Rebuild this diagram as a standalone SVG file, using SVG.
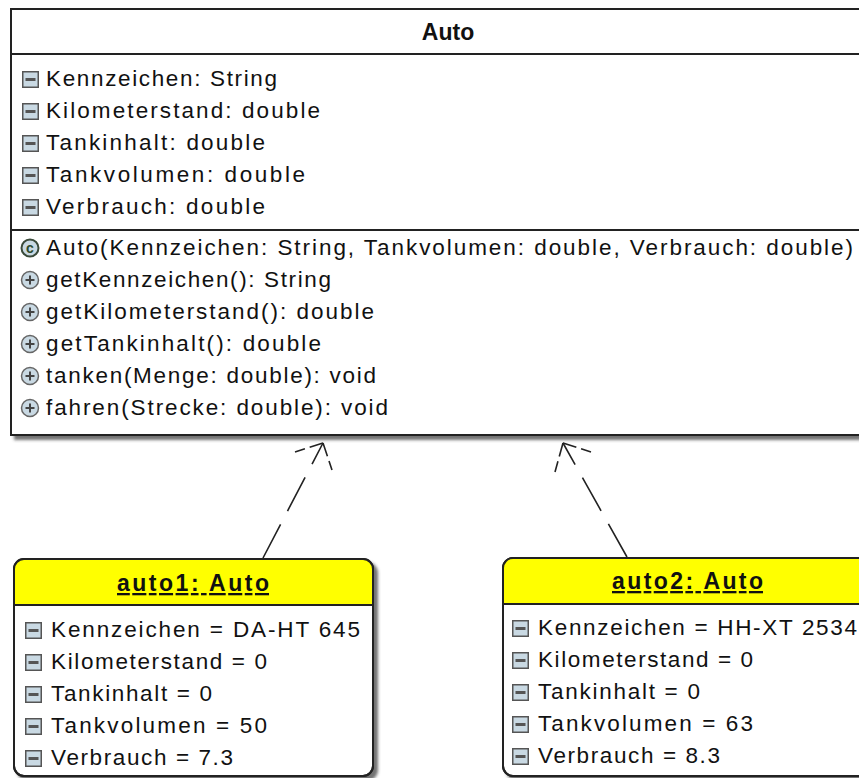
<svg xmlns="http://www.w3.org/2000/svg" width="859" height="778" viewBox="0 0 859 778">
<style>
.box{fill:#fff;stroke:#222;stroke-width:2}
.sep{stroke:#222;stroke-width:2}
.t{font-family:"Liberation Sans",Arial,sans-serif;font-size:22.5px;fill:#111}
.b{font-family:"Liberation Sans",Arial,sans-serif;font-size:23px;font-weight:bold;fill:#111}
.u{text-decoration:underline}
.ai{fill:#c9d9e3;stroke:#555;stroke-width:1.5}
.bar{fill:#555}
.mi{fill:#c9d9e3;stroke:#666;stroke-width:1.5}
.plus{stroke:#444;stroke-width:2}
.dash{fill:none;stroke:#222;stroke-width:1.6;stroke-dasharray:38 15}
.head{fill:none;stroke:#222;stroke-width:1.6;stroke-dasharray:14 5}
</style>
<defs>
<filter id="sh" x="-5%" y="-5%" width="115%" height="115%">
<feDropShadow dx="4" dy="4" stdDeviation="1.5" flood-color="#444" flood-opacity="0.75"/>
</filter>
<symbol id="attr" viewBox="0 0 17 17" width="17" height="17">
<rect x="0.75" y="0.75" width="15.5" height="15.5" class="ai"/>
<rect x="3.5" y="7" width="10" height="3" class="bar"/>
</symbol>
<symbol id="meth" viewBox="0 0 20 20" width="20" height="20">
<circle cx="10" cy="10" r="8.5" class="mi"/>
<line x1="5.5" y1="10" x2="14.5" y2="10" class="plus"/>
<line x1="10" y1="5.5" x2="10" y2="14.5" class="plus"/>
</symbol>
</defs>
<rect width="859" height="778" fill="#fff"/>

<g id="Auto">
<rect x="11" y="9" width="874" height="426" class="box" filter="url(#sh)"/>
<line x1="11" y1="54" x2="885" y2="54" class="sep"/>
<line x1="11" y1="230" x2="885" y2="230" class="sep"/>
<text x="448" y="40" class="b" text-anchor="middle">Auto</text>
<use href="#attr" x="22" y="71"/>
<text x="46" y="86" class="t" textLength="231" lengthAdjust="spacing">Kennzeichen: String</text>
<use href="#attr" x="22" y="103"/>
<text x="46" y="118" class="t" textLength="274" lengthAdjust="spacing">Kilometerstand: double</text>
<use href="#attr" x="22" y="135"/>
<text x="46" y="150" class="t" textLength="219" lengthAdjust="spacing">Tankinhalt: double</text>
<use href="#attr" x="22" y="167"/>
<text x="46" y="182" class="t" textLength="259" lengthAdjust="spacing">Tankvolumen: double</text>
<use href="#attr" x="22" y="199"/>
<text x="46" y="214" class="t" textLength="219" lengthAdjust="spacing">Verbrauch: double</text>
<circle cx="30" cy="248" r="8.5" fill="#c9d9e3" stroke="#3a4a3a" stroke-width="2"/>
<text x="30" y="253" text-anchor="middle" style="font-family:'Liberation Sans',Arial,sans-serif;font-size:14px;font-weight:bold;fill:#2d4a2d">c</text>
<text x="46" y="255" class="t" textLength="807" lengthAdjust="spacing">Auto(Kennzeichen: String, Tankvolumen: double, Verbrauch: double)</text>
<use href="#meth" x="20" y="270"/>
<text x="46" y="287" class="t" textLength="285" lengthAdjust="spacing">getKennzeichen(): String</text>
<use href="#meth" x="20" y="302"/>
<text x="46" y="319" class="t" textLength="328" lengthAdjust="spacing">getKilometerstand(): double</text>
<use href="#meth" x="20" y="334"/>
<text x="46" y="351" class="t" textLength="275" lengthAdjust="spacing">getTankinhalt(): double</text>
<use href="#meth" x="20" y="366"/>
<text x="46" y="383" class="t" textLength="330" lengthAdjust="spacing">tanken(Menge: double): void</text>
<use href="#meth" x="20" y="398"/>
<text x="46" y="415" class="t" textLength="342" lengthAdjust="spacing">fahren(Strecke: double): void</text>
</g>

<g id="auto1">
<rect x="14" y="559" width="359" height="217" rx="10" class="box" filter="url(#sh)"/>
<path d="M14,605 V569 A10,10 0 0 1 24,559 H363 A10,10 0 0 1 373,569 V605 Z" fill="#ffff00"/>
<rect x="14" y="559" width="359" height="217" rx="10" fill="none" stroke="#222" stroke-width="2"/>
<line x1="14" y1="605" x2="373" y2="605" class="sep"/>
<text x="117" y="591" class="b u" textLength="152" lengthAdjust="spacing">auto1: Auto</text>
<use href="#attr" x="25" y="622"/>
<text x="51" y="637" class="t" textLength="309" lengthAdjust="spacing">Kennzeichen = DA-HT 645</text>
<use href="#attr" x="25" y="654"/>
<text x="51" y="669" class="t" textLength="216" lengthAdjust="spacing">Kilometerstand = 0</text>
<use href="#attr" x="25" y="686"/>
<text x="51" y="701" class="t" textLength="161" lengthAdjust="spacing">Tankinhalt = 0</text>
<use href="#attr" x="25" y="718"/>
<text x="51" y="733" class="t" textLength="216" lengthAdjust="spacing">Tankvolumen = 50</text>
<use href="#attr" x="25" y="750"/>
<text x="51" y="765" class="t" textLength="182" lengthAdjust="spacing">Verbrauch = 7.3</text>
</g>

<g id="auto2">
<rect x="503" y="558" width="369" height="218" rx="10" class="box" filter="url(#sh)"/>
<path d="M503,604 V568 A10,10 0 0 1 513,558 H862 A10,10 0 0 1 872,568 V604 Z" fill="#ffff00"/>
<rect x="503" y="558" width="369" height="218" rx="10" fill="none" stroke="#222" stroke-width="2"/>
<line x1="503" y1="604" x2="872" y2="604" class="sep"/>
<text x="612" y="589" class="b u" textLength="151" lengthAdjust="spacing">auto2: Auto</text>
<use href="#attr" x="512" y="620"/>
<text x="538" y="635" class="t" textLength="319" lengthAdjust="spacing">Kennzeichen = HH-XT 2534</text>
<use href="#attr" x="512" y="652"/>
<text x="538" y="667" class="t" textLength="215" lengthAdjust="spacing">Kilometerstand = 0</text>
<use href="#attr" x="512" y="684"/>
<text x="538" y="699" class="t" textLength="162" lengthAdjust="spacing">Tankinhalt = 0</text>
<use href="#attr" x="512" y="716"/>
<text x="538" y="731" class="t" textLength="215" lengthAdjust="spacing">Tankvolumen = 63</text>
<use href="#attr" x="512" y="748"/>
<text x="538" y="763" class="t" textLength="182" lengthAdjust="spacing">Verbrauch = 8.3</text>
</g>

<g id="connectors">
<path d="M263,558 L323,443" class="dash"/>
<path d="M323,443 L295,452" class="head"/>
<path d="M323,443 L332,470" class="head"/>
<path d="M627,557 L563,443" class="dash"/>
<path d="M563,443 L555,472" class="head"/>
<path d="M563,443 L591,452" class="head"/>
</g>
</svg>
